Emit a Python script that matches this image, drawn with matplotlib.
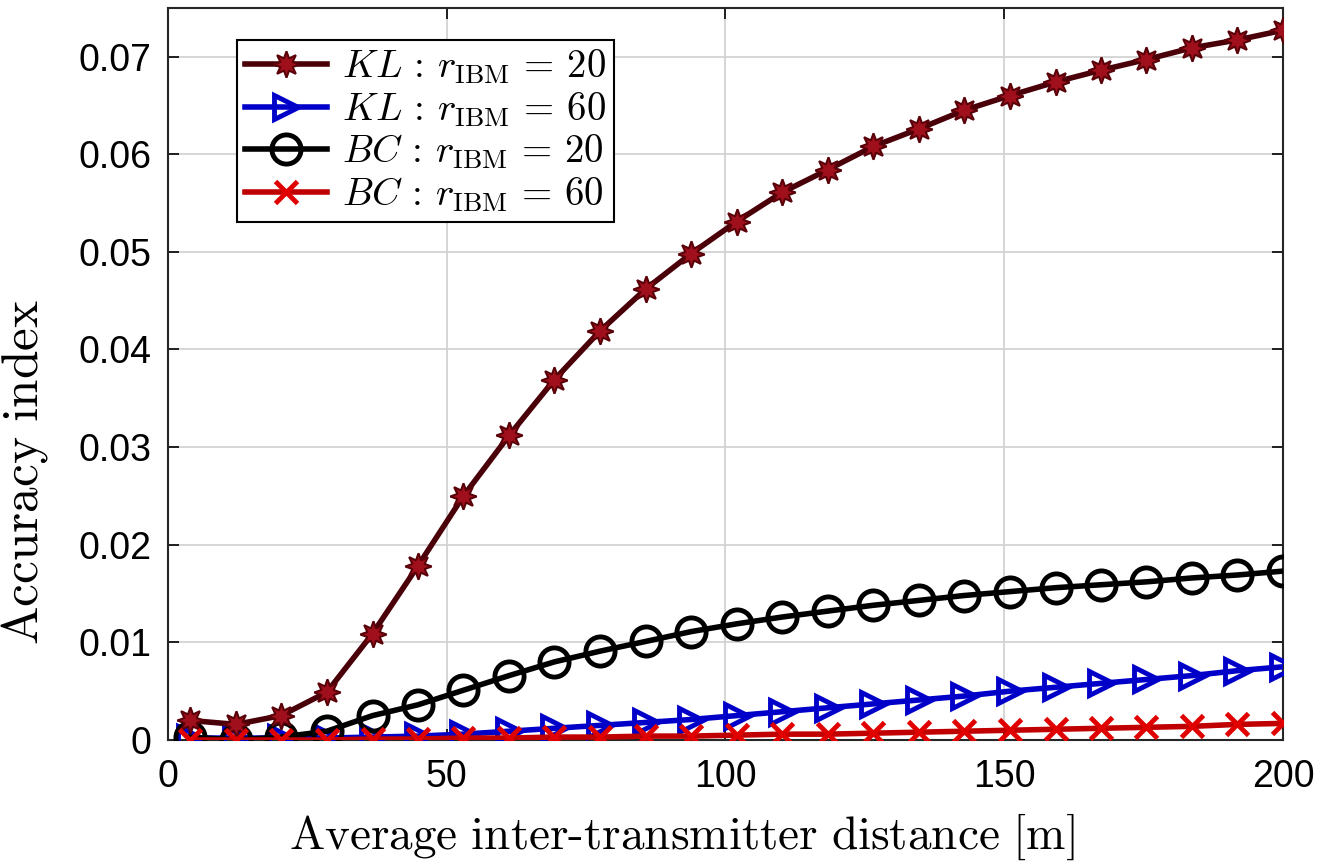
import numpy as np
import matplotlib.pyplot as plt

plt.rcParams['mathtext.fontset'] = 'cm'
plt.rcParams['font.family'] = ['Liberation Sans', 'DejaVu Sans']

# average inter-transmitter distance [m]
dist = [4, 12.2, 20.3, 28.5, 36.7, 44.8, 53, 61.2, 69.3, 77.5, 85.7, 93.8, 102,
        110.2, 118.3, 126.5, 134.7, 142.8, 151, 159.2, 167.3, 175.5, 183.7, 191.8, 200]

kl_20 = [0.0020, 0.0016, 0.0025, 0.0049, 0.0109, 0.0178, 0.0250, 0.0312, 0.0369,
         0.0419, 0.0462, 0.0498, 0.0531, 0.0561, 0.0584, 0.0608, 0.0626, 0.0645,
         0.0660, 0.0674, 0.0686, 0.0697, 0.0709, 0.0717, 0.0727]
kl_60 = [0.0002, 0.0002, 0.0002, 0.0002, 0.0003, 0.0004, 0.0006, 0.0009, 0.0012,
         0.0015, 0.0018, 0.0021, 0.0025, 0.0029, 0.0033, 0.0037, 0.0041, 0.0045,
         0.0050, 0.0054, 0.0058, 0.0062, 0.0066, 0.0071, 0.0075]
bc_20 = [0.0003, 0.0000, 0.0003, 0.0009, 0.0025, 0.0036, 0.0051, 0.0066, 0.0080,
         0.0091, 0.0101, 0.0111, 0.0119, 0.0126, 0.0132, 0.0138, 0.0143, 0.0148,
         0.0152, 0.0156, 0.0159, 0.0162, 0.0166, 0.0169, 0.0173]
bc_60 = [0.0000, 0.0000, 0.0000, 0.0000, 0.0001, 0.0001, 0.0002, 0.0002, 0.0003,
         0.0003, 0.0004, 0.0004, 0.0005, 0.0006, 0.0006, 0.0007, 0.0008, 0.0009,
         0.0010, 0.0011, 0.0012, 0.0013, 0.0014, 0.0016, 0.0017]

fig = plt.figure(figsize=(13.33, 8.65), dpi=100)
ax = fig.add_axes([0.126, 0.1445, 0.8365, 0.8465])

ax.plot(dist, kl_20, color='#4a0008', lw=4, marker=(8, 1, 0), ms=19,
        mfc='#a0101c', mec='#5a0008', mew=1.5, label=r'$KL\,:\,r_{\rm IBM}\,=\,20$', zorder=4)
ax.plot(dist, kl_60, color='#0000c8', lw=4, marker='>', ms=17,
        mfc='none', mec='#0000c8', mew=3.5, label=r'$KL\,:\,r_{\rm IBM}\,=\,60$', zorder=3)
ax.plot(dist, bc_20, color='black', lw=4, marker='o', ms=21,
        mfc='none', mec='black', mew=3.5, label=r'$BC\,:\,r_{\rm IBM}\,=\,20$', zorder=3)
ax.plot(dist, bc_60, color='#c00000', lw=4, marker='x', ms=16,
        mec='#e00000', mew=3.5, label=r'$BC\,:\,r_{\rm IBM}\,=\,60$', zorder=5)

ax.set_xlim(0, 200)
ax.set_ylim(0, 0.075)
ax.set_xticks([0, 50, 100, 150, 200])
ax.set_yticks([0, 0.01, 0.02, 0.03, 0.04, 0.05, 0.06, 0.07])
ax.set_yticklabels(['0', '0.01', '0.02', '0.03', '0.04', '0.05', '0.06', '0.07'])
ax.tick_params(labelsize=27, direction='in', length=8, width=1.2, top=True, right=True)
ax.tick_params(axis='x', pad=14)
ax.tick_params(axis='y', pad=12)
ax.grid(True, color='#d0d0d0', lw=1.2)
ax.set_axisbelow(True)
for s in ax.spines.values():
    s.set_linewidth(1.5)
    s.set_color('#262626')

ax.set_xlabel(r'$\mathrm{Average\ inter\text{-}transmitter\ distance\ [m]}$', fontsize=34)
ax.set_ylabel(r'$\mathrm{Accuracy\ index}$', fontsize=37)
ax.xaxis.set_label_coords(0.461, -0.097)
ax.yaxis.set_label_coords(-0.106, 0.366)

leg = ax.legend(loc='upper left', bbox_to_anchor=(0.062, 0.956), fontsize=28,
                fancybox=False, edgecolor='black', framealpha=1, handlelength=2.1,
                borderpad=0.2, labelspacing=0.1, handletextpad=0.4, borderaxespad=0)
leg.get_frame().set_linewidth(1.5)

fig.savefig('out.png', dpi=100)
